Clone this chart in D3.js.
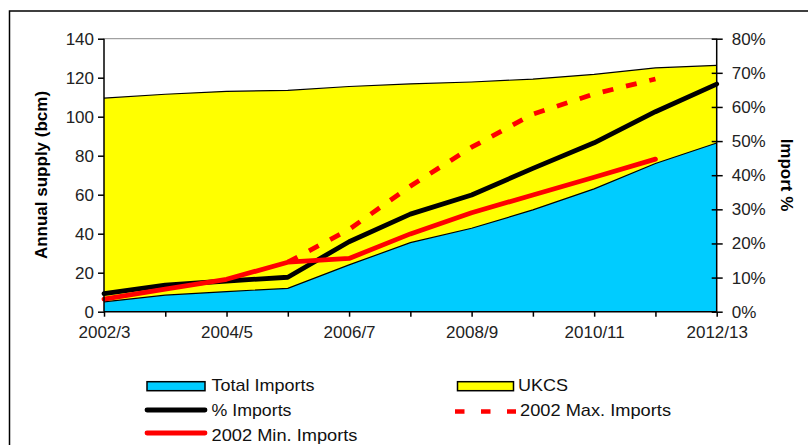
<!DOCTYPE html>
<html><head><meta charset="utf-8">
<script src="https://cdn.jsdelivr.net/npm/d3@7"></script>
<style>body{margin:0;background:#fff}svg{display:block;font-family:Arial,"Liberation Sans",sans-serif}</style>
</head><body><svg id="c" width="808" height="445"></svg>
<script>
const categories = ["2002/3","2003/4","2004/5","2005/6","2006/7","2007/8","2008/9","2009/10","2010/11","2011/12","2012/13"];
const tickLabels = ["2002/3","2004/5","2006/7","2008/9","2010/11","2012/13"];
const totalImports = [5, 8.5, 10.3, 12, 24, 35.4, 42.8, 52.2, 63, 76, 86.5];
const ukcs = [104.5, 103, 102.7, 101.5, 91.5, 81.4, 75, 67.1, 58.7, 49, 39.8];
const pctImports = [5.3, 7.8, 9.0, 10.1, 20.5, 28.6, 34.2, 42.0, 49.5, 58.6, 66.7];
const min2002 = [3.7, 6.6, 9.5, 14.5, 15.6, 22.8, 29.0, 34.2, 39.4, 44.7, null];
const max2002 = [null, null, null, 14.5, 24.1, 36.8, 48.2, 57.9, 63.8, 68.2, null];
const leftTicks = [0,20,40,60,80,100,120,140];
const rightTicks = [0,10,20,30,40,50,60,70,80];

const svg = d3.select("#c");
const L = 104, R = 716.7, T = 38.7, B = 311.7;
const x = d3.scalePoint().domain(categories).range([L, R]);
const y = d3.scaleLinear().domain([0,140]).range([B, T]);
const y2 = d3.scaleLinear().domain([0,80]).range([B, T]);

// frame
svg.append("rect").attr("x",9.5).attr("y",11).attr("width",830).attr("height",460)
  .attr("fill","none").attr("stroke","#000").attr("stroke-width",1.5);

// top gridline
svg.append("line").attr("x1",L).attr("x2",R).attr("y1",T).attr("y2",T).attr("stroke","#8c8c8c").attr("stroke-width",1);

const rows = categories.map((c,i)=>({c, imp: totalImports[i], tot: totalImports[i]+ukcs[i]}));
const areaImp = d3.area().x(d=>x(d.c)).y0(B).y1(d=>y(d.imp));
const areaUk = d3.area().x(d=>x(d.c)).y0(d=>y(d.imp)).y1(d=>y(d.tot));
svg.append("path").datum(rows).attr("d",areaUk).attr("fill","#ffff00");
svg.append("path").datum(rows).attr("d",areaImp).attr("fill","#00ccff");
svg.append("path").datum(rows).attr("d",d3.line().x(d=>x(d.c)).y(d=>y(d.tot))).attr("fill","none").attr("stroke","#000").attr("stroke-width",1.2);
svg.append("path").datum(rows).attr("d",d3.line().x(d=>x(d.c)).y(d=>y(d.imp))).attr("fill","none").attr("stroke","#000").attr("stroke-width",1.2);

function pctLine(arr, color, dash){
  const pts = categories.map((c,i)=>({c, v: arr[i]}));
  const ln = d3.line().defined(d=>d.v!=null).x(d=>x(d.c)).y(d=>y2(d.v));
  const p = svg.append("path").datum(pts).attr("d",ln).attr("fill","none")
    .attr("stroke",color).attr("stroke-width",4.8).attr("stroke-linejoin","round");
  if(dash) p.attr("stroke-dasharray",dash); else p.attr("stroke-linecap","round");
}
pctLine(pctImports, "#000", null);
pctLine(min2002, "#ff0000", null);
pctLine(max2002, "#ff0000", "11,13");

// axes
const axL = svg.append("g").attr("transform",`translate(${L},0)`)
  .call(d3.axisLeft(y).tickValues(leftTicks).tickSize(6).tickPadding(4));
const axR = svg.append("g").attr("transform",`translate(${R},0)`)
  .call(d3.axisRight(y2).tickValues(rightTicks).tickFormat(d=>d+"%").tickSize(6).tickPadding(9));
axR.selectAll(".tick line").attr("x1",-5);
const axB = svg.append("g").attr("transform",`translate(0,${B})`)
  .call(d3.axisBottom(x).tickSize(5).tickPadding(9).tickFormat(d=>tickLabels.includes(d)?d:""));
[axL,axR,axB].forEach(g=>{
  g.select(".domain").attr("stroke","#000").attr("stroke-width",1.5);
  g.selectAll(".tick line").attr("stroke","#000").attr("stroke-width",1.5);
  g.selectAll("text").attr("font-size",17).attr("fill","#222").attr("font-family","Arial, 'Liberation Sans', sans-serif");
});
axL.select(".domain").attr("d",`M0,${B}V${T}`);
axR.select(".domain").attr("d",`M0,${B}V${T}`);
axB.select(".domain").attr("d",`M${L},0H${R}`);

// titles
svg.append("text").attr("transform",`translate(47,175) rotate(-90)`).attr("text-anchor","middle")
  .attr("font-size",17).attr("font-weight","bold").text("Annual supply (bcm)");
svg.append("text").attr("transform",`translate(781,175) rotate(90)`).attr("text-anchor","middle")
  .attr("font-size",17).attr("font-weight","bold").text("Import %");

// legend
const lg = svg.append("g");
function legText(xp, base, t, w){
  lg.append("text").attr("x",xp).attr("y",base).attr("font-size",17).attr("fill","#111")
    .attr("textLength",w).attr("lengthAdjust","spacingAndGlyphs").text(t);
}
lg.append("rect").attr("x",147).attr("y",381.7).attr("width",58).attr("height",9).attr("fill","#00ccff").attr("stroke","#000").attr("stroke-width",1.5);
legText(211.5,391,"Total Imports",103);
lg.append("rect").attr("x",457.5).attr("y",381.7).attr("width",56).attr("height",9).attr("fill","#ffff00").attr("stroke","#000").attr("stroke-width",1.5);
legText(518,391,"UKCS",50);
lg.append("line").attr("x1",147).attr("x2",205).attr("y1",410).attr("y2",410).attr("stroke","#000").attr("stroke-width",4.8).attr("stroke-linecap","round");
legText(211.5,416,"% Imports",80);
lg.append("line").attr("x1",455).attr("x2",516).attr("y1",411.5).attr("y2",411.5).attr("stroke","#ff0000").attr("stroke-width",4.5).attr("stroke-dasharray","9.5,16.5");
legText(520,416,"2002 Max. Imports",151);
lg.append("line").attr("x1",147).attr("x2",205).attr("y1",433).attr("y2",433).attr("stroke","#ff0000").attr("stroke-width",4.8).attr("stroke-linecap","round");
legText(211.5,440.5,"2002 Min. Imports",146);
</script></body></html>
